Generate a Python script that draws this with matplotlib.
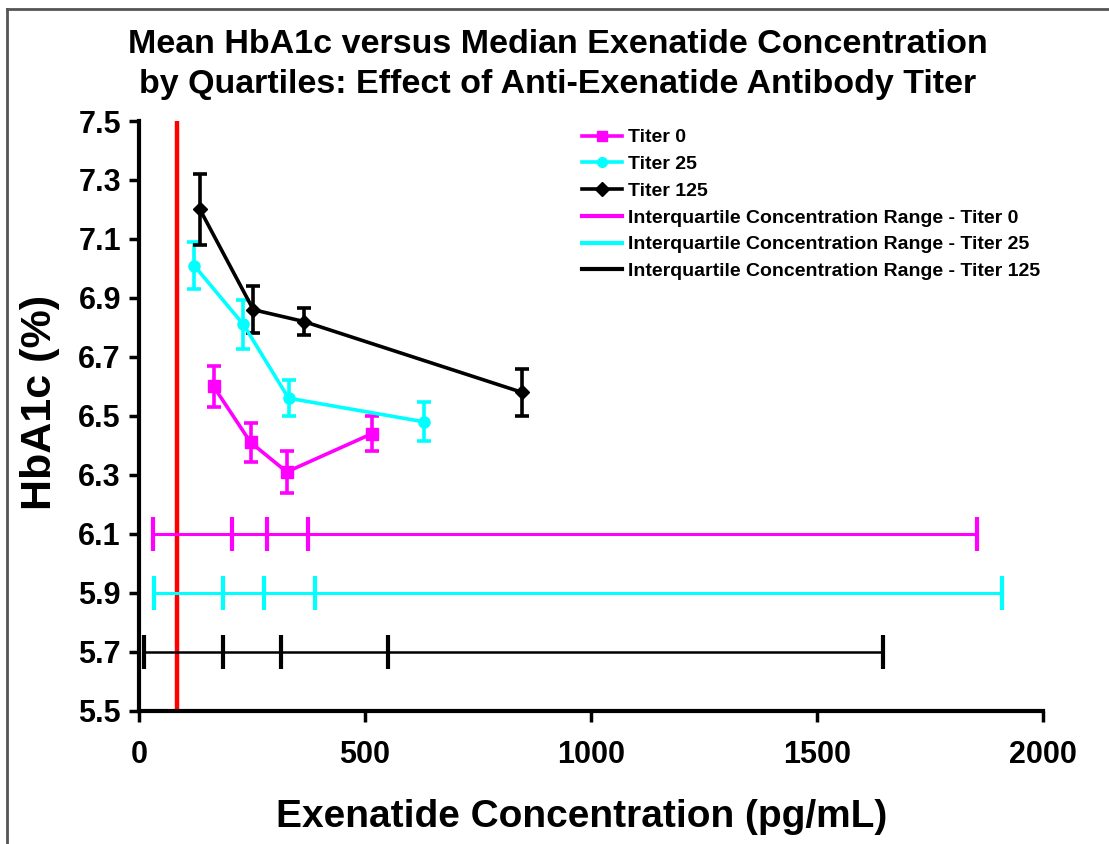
import matplotlib
matplotlib.use("Agg")
import matplotlib.pyplot as plt
from matplotlib.lines import Line2D

plt.rcParams["font.family"] = ["Liberation Sans", "DejaVu Sans"]
plt.rcParams["font.weight"] = "bold"

# Median concentration (pg/mL) and mean HbA1c (%) for each quartile
titer_labels = ["Titer 0", "Titer 25", "Titer 125"]
colors = ["#FF00FF", "#00FFFF", "#000000"]
markers = ["s", "o", "D"]

conc_median = [
    [165, 247, 327, 516],
    [122, 231, 331, 630],
    [135, 253, 365, 847],
]
hba1c_mean = [
    [6.60, 6.41, 6.31, 6.44],
    [7.01, 6.81, 6.56, 6.48],
    [7.20, 6.86, 6.82, 6.58],
]
hba1c_err = [
    [0.07, 0.065, 0.07, 0.058],
    [0.08, 0.083, 0.06, 0.066],
    [0.12, 0.08, 0.047, 0.08],
]

# Quartile boundaries (min, Q1, median, Q3, max) and the HbA1c level they are drawn at
iqr_bounds = [
    [32, 206, 283, 375, 1855],
    [34, 185, 277, 389, 1909],
    [11, 185, 314, 550, 1645],
]
iqr_level = [6.1, 5.9, 5.7]
iqr_labels = [
    "Interquartile Concentration Range - Titer 0",
    "Interquartile Concentration Range - Titer 25",
    "Interquartile Concentration Range - Titer 125",
]
iqr_widths = [2.2, 2.2, 1.8]

red_line_x = 85

y_ticks = [5.5, 5.7, 5.9, 6.1, 6.3, 6.5, 6.7, 6.9, 7.1, 7.3, 7.5]
x_ticks = [0, 500, 1000, 1500, 2000]


def main():

    fig = plt.figure(figsize=(11.09, 8.44), dpi=100)
    ax = fig.add_axes([0.1253, 0.1579, 0.8152, 0.6987])

    # Reference concentration
    ax.axvline(red_line_x, color="#FF0000", linewidth=3.2, zorder=1)

    handles = []

    for i in range(3):
        ax.errorbar(
            conc_median[i],
            hba1c_mean[i],
            yerr=hba1c_err[i],
            color=colors[i],
            linewidth=2.6,
            elinewidth=2.6,
            capsize=5,
            capthick=2.6,
            marker=markers[i],
            markersize=8 if markers[i] != "D" else 7,
            zorder=3,
        )
        handles.append(
            Line2D([], [], color=colors[i], linewidth=2.6, marker=markers[i],
                   markersize=7, label=titer_labels[i])
        )

    for i in range(3):
        bounds = iqr_bounds[i]
        ax.plot(
            [bounds[0], bounds[-1]],
            [iqr_level[i], iqr_level[i]],
            color=colors[i],
            linewidth=iqr_widths[i],
            solid_capstyle="butt",
            zorder=2,
        )
        ax.plot(
            bounds,
            [iqr_level[i]] * len(bounds),
            linestyle="none",
            marker="|",
            markersize=24,
            markeredgewidth=3,
            color=colors[i],
            zorder=2,
        )
        handles.append(
            Line2D([], [], color=colors[i], linewidth=3, label=iqr_labels[i])
        )

    ax.legend(
        handles=handles,
        loc="upper left",
        bbox_to_anchor=(0.481, 1.0),
        frameon=False,
        fontsize=14,
        handlelength=2.1,
        handletextpad=0.3,
        labelspacing=0.47,
        borderaxespad=0,
    )

    # Axis settings
    ax.set_xlim(0, 2000)
    ax.set_ylim(5.5, 7.5)
    ax.set_xticks(x_ticks)
    ax.set_yticks(y_ticks)
    ax.set_yticklabels([f"{v:.1f}" for v in y_ticks])

    for side in ["top", "right"]:
        ax.spines[side].set_visible(False)
    for side in ["left", "bottom"]:
        ax.spines[side].set_linewidth(3)

    ax.tick_params(axis="y", direction="out", length=7, width=2.5, labelsize=22, pad=6)
    ax.tick_params(axis="x", direction="out", length=8, width=2.5, labelsize=22, pad=13)
    for lbl in ax.get_xticklabels() + ax.get_yticklabels():
        lbl.set_fontweight("bold")

    ax.set_xlabel("Exenatide Concentration (pg/mL)", fontsize=28, fontweight="bold")
    ax.xaxis.label.set_va("center")
    ax.xaxis.set_label_coords(0.49, -0.18)

    ax.set_ylabel("HbA1c (%)", fontsize=31, fontweight="bold")
    ax.yaxis.label.set_va("center")
    ax.yaxis.set_label_coords(-0.11, 0.522)

    fig.text(
        0.503,
        0.924,
        "Mean HbA1c versus Median Exenatide Concentration\n"
        "by Quartiles: Effect of Anti-Exenatide Antibody Titer",
        ha="center",
        va="center",
        fontsize=24.5,
        fontweight="bold",
        linespacing=1.38,
    )

    # Frame around the figure (left and top edges visible)
    fig.add_artist(Line2D([0.0065, 0.0065], [0.0, 0.989], color="#555555", linewidth=2,
                          transform=fig.transFigure))
    fig.add_artist(Line2D([0.0065, 1.0], [0.989, 0.989], color="#555555", linewidth=2,
                          transform=fig.transFigure))

    fig.savefig("out.png", dpi=100)


if __name__ == "__main__":
    main()
